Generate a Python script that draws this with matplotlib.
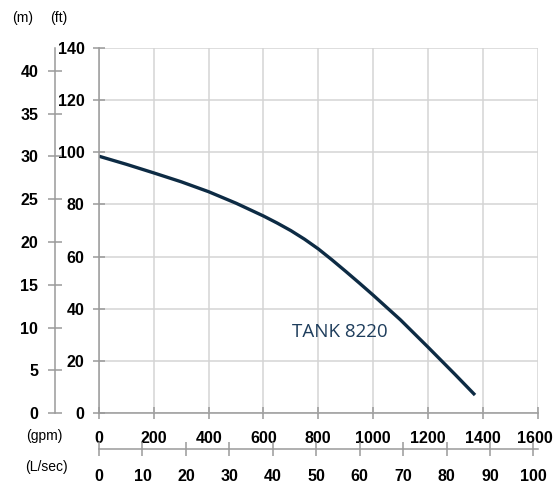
import matplotlib.pyplot as plt
from matplotlib.transforms import ScaledTranslation

# Pump curve (flow in gpm, head in ft)
flow_gpm = [0, 100, 200, 300, 400, 500, 600, 650, 700, 750, 800, 850, 900, 950,
            1000, 1100, 1200, 1300, 1372]
head_ft = [98.5, 95.4, 92.1, 88.7, 84.9, 80.5, 75.6, 72.9, 70.0, 66.7, 63.0, 58.8,
           54.4, 49.9, 45.3, 35.8, 25.4, 14.8, 7.0]

ft_ticks = [0, 20, 40, 60, 80, 100, 120, 140]
m_ticks = [0, 5, 10, 15, 20, 25, 30, 35, 40]
gpm_ticks = [0, 200, 400, 600, 800, 1000, 1200, 1400, 1600]
lsec_ticks = [0, 10, 20, 30, 40, 50, 60, 70, 80, 90, 100]

GPM_PER_LSEC = 15.85
FT_PER_M = 3.2808

plt.rcParams['font.family'] = ['Liberation Sans', 'DejaVu Sans']
axis_col = '#9a9a9a'
grid_col = '#d4d4d4'
curve_col = '#0d2b44'
tick_fs = 11.5

W, H = 553, 484
fig = plt.figure(figsize=(W / 100, H / 100), dpi=100)
left, right, bottom, top = 99 / W, 537.5 / W, 1 - 413.3 / H, 1 - 47.9 / H

# main axes: head (ft) vs flow (gpm)
ax = fig.add_axes([left, bottom, right - left, top - bottom])
ax.set_xlim(0, 1600)
ax.set_ylim(0, 140)
ax.set_xticks(gpm_ticks)
ax.set_yticks(ft_ticks)
ax.grid(True, color=grid_col, linewidth=1.1)
ax.set_axisbelow(True)
for s in ['top', 'right']:
    ax.spines[s].set_visible(False)
for s in ['left', 'bottom']:
    ax.spines[s].set_color(axis_col)
    ax.spines[s].set_linewidth(1.1)
ax.tick_params(direction='inout', length=9, width=1.1, color=axis_col,
               labelsize=tick_fs)
ax.tick_params(axis='x', pad=8)
ax.tick_params(axis='y', pad=6)
for lab in ax.get_xticklabels() + ax.get_yticklabels():
    lab.set_fontweight('bold')
# keep the last gpm label inside the picture
last = ax.get_xticklabels()[-1]
last.set_transform(last.get_transform() + ScaledTranslation(-3 / 100, 0, fig.dpi_scale_trans))

ax.plot(flow_gpm, head_ft, color=curve_col, linewidth=2.4,
        solid_capstyle='butt', solid_joinstyle='round')
ax.text(879, 31, 'TANK 8220', color='#1e3d5c', fontsize=13.5,
        family=['Open Sans', 'DejaVu Sans'], ha='center', va='center')

# metres scale on the far left
ax_m = fig.add_axes([55 / W, bottom, right - 55 / W, top - bottom])
ax_m.patch.set_visible(False)
ax_m.set_ylim(0, 140 / FT_PER_M)
ax_m.set_yticks(m_ticks)
ax_m.xaxis.set_visible(False)
for s in ['top', 'right', 'bottom']:
    ax_m.spines[s].set_visible(False)
ax_m.spines['left'].set_color(axis_col)
ax_m.spines['left'].set_linewidth(1.1)
ax_m.tick_params(direction='inout', length=10, width=1.1, color=axis_col,
                 labelsize=tick_fs, pad=7)
for lab in ax_m.get_yticklabels():
    lab.set_fontweight('bold')

# L/sec scale under the gpm scale
ax_l = ax.twiny()
ax_l.set_xlim(0, 1600 / GPM_PER_LSEC)
ax_l.set_xticks(lsec_ticks)
ax_l.xaxis.set_ticks_position('bottom')
ax_l.xaxis.set_label_position('bottom')
ax_l.spines['bottom'].set_position(('outward', 26))
for s in ['top', 'right', 'left']:
    ax_l.spines[s].set_visible(False)
ax_l.spines['bottom'].set_color(axis_col)
ax_l.spines['bottom'].set_linewidth(1.1)
ax_l.tick_params(direction='inout', length=10, width=1.1, color=axis_col,
                 labelsize=tick_fs, pad=9)
for lab in ax_l.get_xticklabels():
    lab.set_fontweight('bold')

# unit labels
fig.text(23 / W, 1 - 18 / H, '(m)', fontsize=10, ha='center', va='center')
fig.text(59 / W, 1 - 18 / H, '(ft)', fontsize=10, ha='center', va='center')
fig.text(44 / W, 1 - 436 / H, '(gpm)', fontsize=10, ha='center', va='center')
fig.text(46 / W, 1 - 467 / H, '(L/sec)', fontsize=10, ha='center', va='center')

fig.savefig('out.png', dpi=100)
